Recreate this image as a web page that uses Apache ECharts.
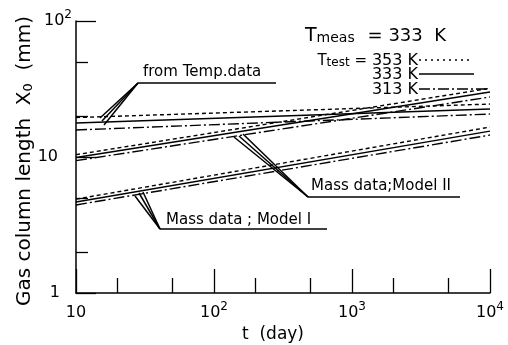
<!DOCTYPE html>
<html>
<head>
<meta charset="utf-8">
<script src="https://cdn.jsdelivr.net/npm/echarts@6/dist/echarts.min.js"></script>
<style>html,body{margin:0;padding:0;background:#fff}#c{width:508px;height:345px}</style>
</head>
<body>
<div id="c"></div>
<script>
// ---- data ----
const tDays = [10, 10000];
// from Temp. data
const temp353 = [19.5, 24.5];
const temp333 = [17.8, 22.5];
const temp313 = [15.8, 20.7];
// Mass data; Model II
const m2_353 = [10.4, 32.0];
const m2_333 = [9.9, 30.0];
const m2_313 = [9.4, 27.6];
// Mass data; Model I
const m1_353 = [4.9, 16.6];
const m1_333 = [4.67, 15.5];
const m1_313 = [4.44, 14.5];

const xMinorTicks = [20, 50, 200, 500, 2000, 5000];
const yMinorTicks = [2, 5, 20, 50];

const FONT = 'DejaVu Sans';
const styles = {
  353: {type: [4, 3], width: 1.4},
  333: {type: 'solid', width: 1.5},
  313: {type: [11, 3, 2, 3], width: 1.4}
};

function mk(name, vals, temp) {
  return {
    type: 'line', name: name, xAxisIndex: 0, yAxisIndex: 0,
    data: tDays.map((t, i) => [t, vals[i]]),
    showSymbol: false, symbol: 'none', silent: true,
    lineStyle: {color: '#000', width: styles[temp].width, type: styles[temp].type}
  };
}

const series = [
  mk('temp353', temp353, 353), mk('temp333', temp333, 333), mk('temp313', temp313, 313),
  mk('m2_353', m2_353, 353), mk('m2_333', m2_333, 333), mk('m2_313', m2_313, 313),
  mk('m1_353', m1_353, 353), mk('m1_333', m1_333, 333), mk('m1_313', m1_313, 313)
];

function powLabel(v) {
  const e = Math.round(Math.log10(v));
  if (e === 0) return '{b|1}';
  if (e === 1) return '{b|10}';
  return '{b|10}{s|' + e + '}';
}
function yLabel(v) {
  const e = Math.round(Math.log10(v));
  if (e === 0) return '{b|1}{g|}';
  if (e === 1) return '{b|10}{g2|}';
  return '{b|10}{s|' + e + '}';
}
const labelRich = {
  b: {fontSize: 16, fontFamily: FONT, color: '#000', lineHeight: 24},
  s: {fontSize: 12, fontFamily: FONT, color: '#000', lineHeight: 10, verticalAlign: 'top'},
  g: {width: 12},
  g2: {width: 14}
};

const chart = echarts.init(document.getElementById('c'), null, {renderer: 'canvas'});
const L = (x1, y1, x2, y2, dash) => ({
  type: 'line', shape: {x1, y1, x2, y2},
  style: {stroke: '#000', lineWidth: 1.5, lineDash: dash || null}
});
const T = (text, x, y, size, align, rich) => ({
  type: 'text',
  style: {text, x, y, font: size + 'px "' + FONT + '"', fill: '#000',
    textAlign: align || 'left', textVerticalAlign: 'middle', rich: rich}
});

chart.setOption({
  animation: false,
  backgroundColor: '#fff',
  grid: {left: 76, right: 18, top: 21, bottom: 52, containLabel: false, outerBoundsMode: 'none'},
  xAxis: [
    {
      type: 'log', logBase: 10, min: 10, max: 10000, position: 'bottom',
      axisLine: {show: true, lineStyle: {color: '#000', width: 1.5}},
      axisTick: {show: true, inside: true, length: 24, lineStyle: {color: '#000', width: 1.3}},
      minorTick: {show: false}, splitLine: {show: false},
      axisLabel: {margin: 8, formatter: powLabel, rich: labelRich},
      name: 't  (day)', nameLocation: 'middle', nameGap: 31,
      nameTextStyle: {fontSize: 17, fontFamily: FONT, color: '#000', padding: [0, 20, 0, 0]}
    },
    {
      type: 'log', logBase: 10, min: 10, max: 10000, position: 'bottom',
      axisLine: {show: false},
      axisTick: {show: true, inside: true, length: 15, customValues: xMinorTicks, lineStyle: {color: '#000', width: 1.3}},
      axisLabel: {show: false}, splitLine: {show: false}
    }
  ],
  yAxis: [
    {
      type: 'log', logBase: 10, min: 1, max: 100, position: 'left',
      axisLine: {show: true, lineStyle: {color: '#000', width: 1.5}},
      axisTick: {show: true, inside: true, length: 20, lineStyle: {color: '#000', width: 1.3}},
      minorTick: {show: false}, splitLine: {show: false},
      axisLabel: {margin: 4, formatter: yLabel, rich: labelRich}
    },
    {
      type: 'log', logBase: 10, min: 1, max: 100, position: 'left',
      axisLine: {show: false},
      axisTick: {show: true, inside: true, length: 12, customValues: yMinorTicks, lineStyle: {color: '#000', width: 1.3}},
      axisLabel: {show: false}, splitLine: {show: false}
    }
  ],
  series: series,
  graphic: [
    // y-axis title (rotated)
    {
      type: 'text', x: 25, y: 161, rotation: Math.PI / 2,
      style: {text: 'Gas column length  {x|X}{sub|0}  (mm)', x: 0, y: 0,
        font: '20px "' + FONT + '"', fill: '#000', textAlign: 'center', textVerticalAlign: 'middle',
        rich: {x: {fontSize: 20, fontFamily: FONT, fill: '#000'},
               sub: {fontSize: 13, fontFamily: FONT, fill: '#000', verticalAlign: 'bottom', lineHeight: 18}}}
    },
    // legend block
    T('T{sub|meas}', 305, 36, 19, 'left', {sub: {fontSize: 14, fontFamily: FONT, verticalAlign: 'bottom', lineHeight: 16}}),
    T('= 333  K', 446, 36, 18, 'right'),
    T('T{sub|test} =', 367, 61, 15, 'right', {sub: {fontSize: 12, fontFamily: FONT, verticalAlign: 'bottom', lineHeight: 14}}),
    T('353 K', 418, 61, 16, 'right'),
    T('333 K', 418, 75, 16, 'right'),
    T('313 K', 418, 90, 16, 'right'),
    L(419, 60, 473, 60, [2, 4]),
    L(419, 74, 474, 74),
    L(419, 89, 490, 89, [11, 3, 2, 3]),
    // from Temp.data
    T('from Temp.data', 143, 72, 15, 'left'),
    L(138, 83, 276, 83),
    L(138, 83, 100, 118), L(138, 83, 102, 121), L(138, 83, 104, 125),
    // Mass data; Model II
    T('Mass data;Model II', 311, 186, 15, 'left'),
    L(308, 197, 460, 197),
    L(308, 197, 234, 137), L(308, 197, 239, 136), L(308, 197, 243, 134),
    // Mass data; Model I
    T('Mass data ; Model I', 166, 220, 15, 'left'),
    L(160, 229, 327, 229),
    L(160, 229, 135, 196), L(160, 229, 139, 193), L(160, 229, 143, 192)
  ]
});
</script>
</body>
</html>
